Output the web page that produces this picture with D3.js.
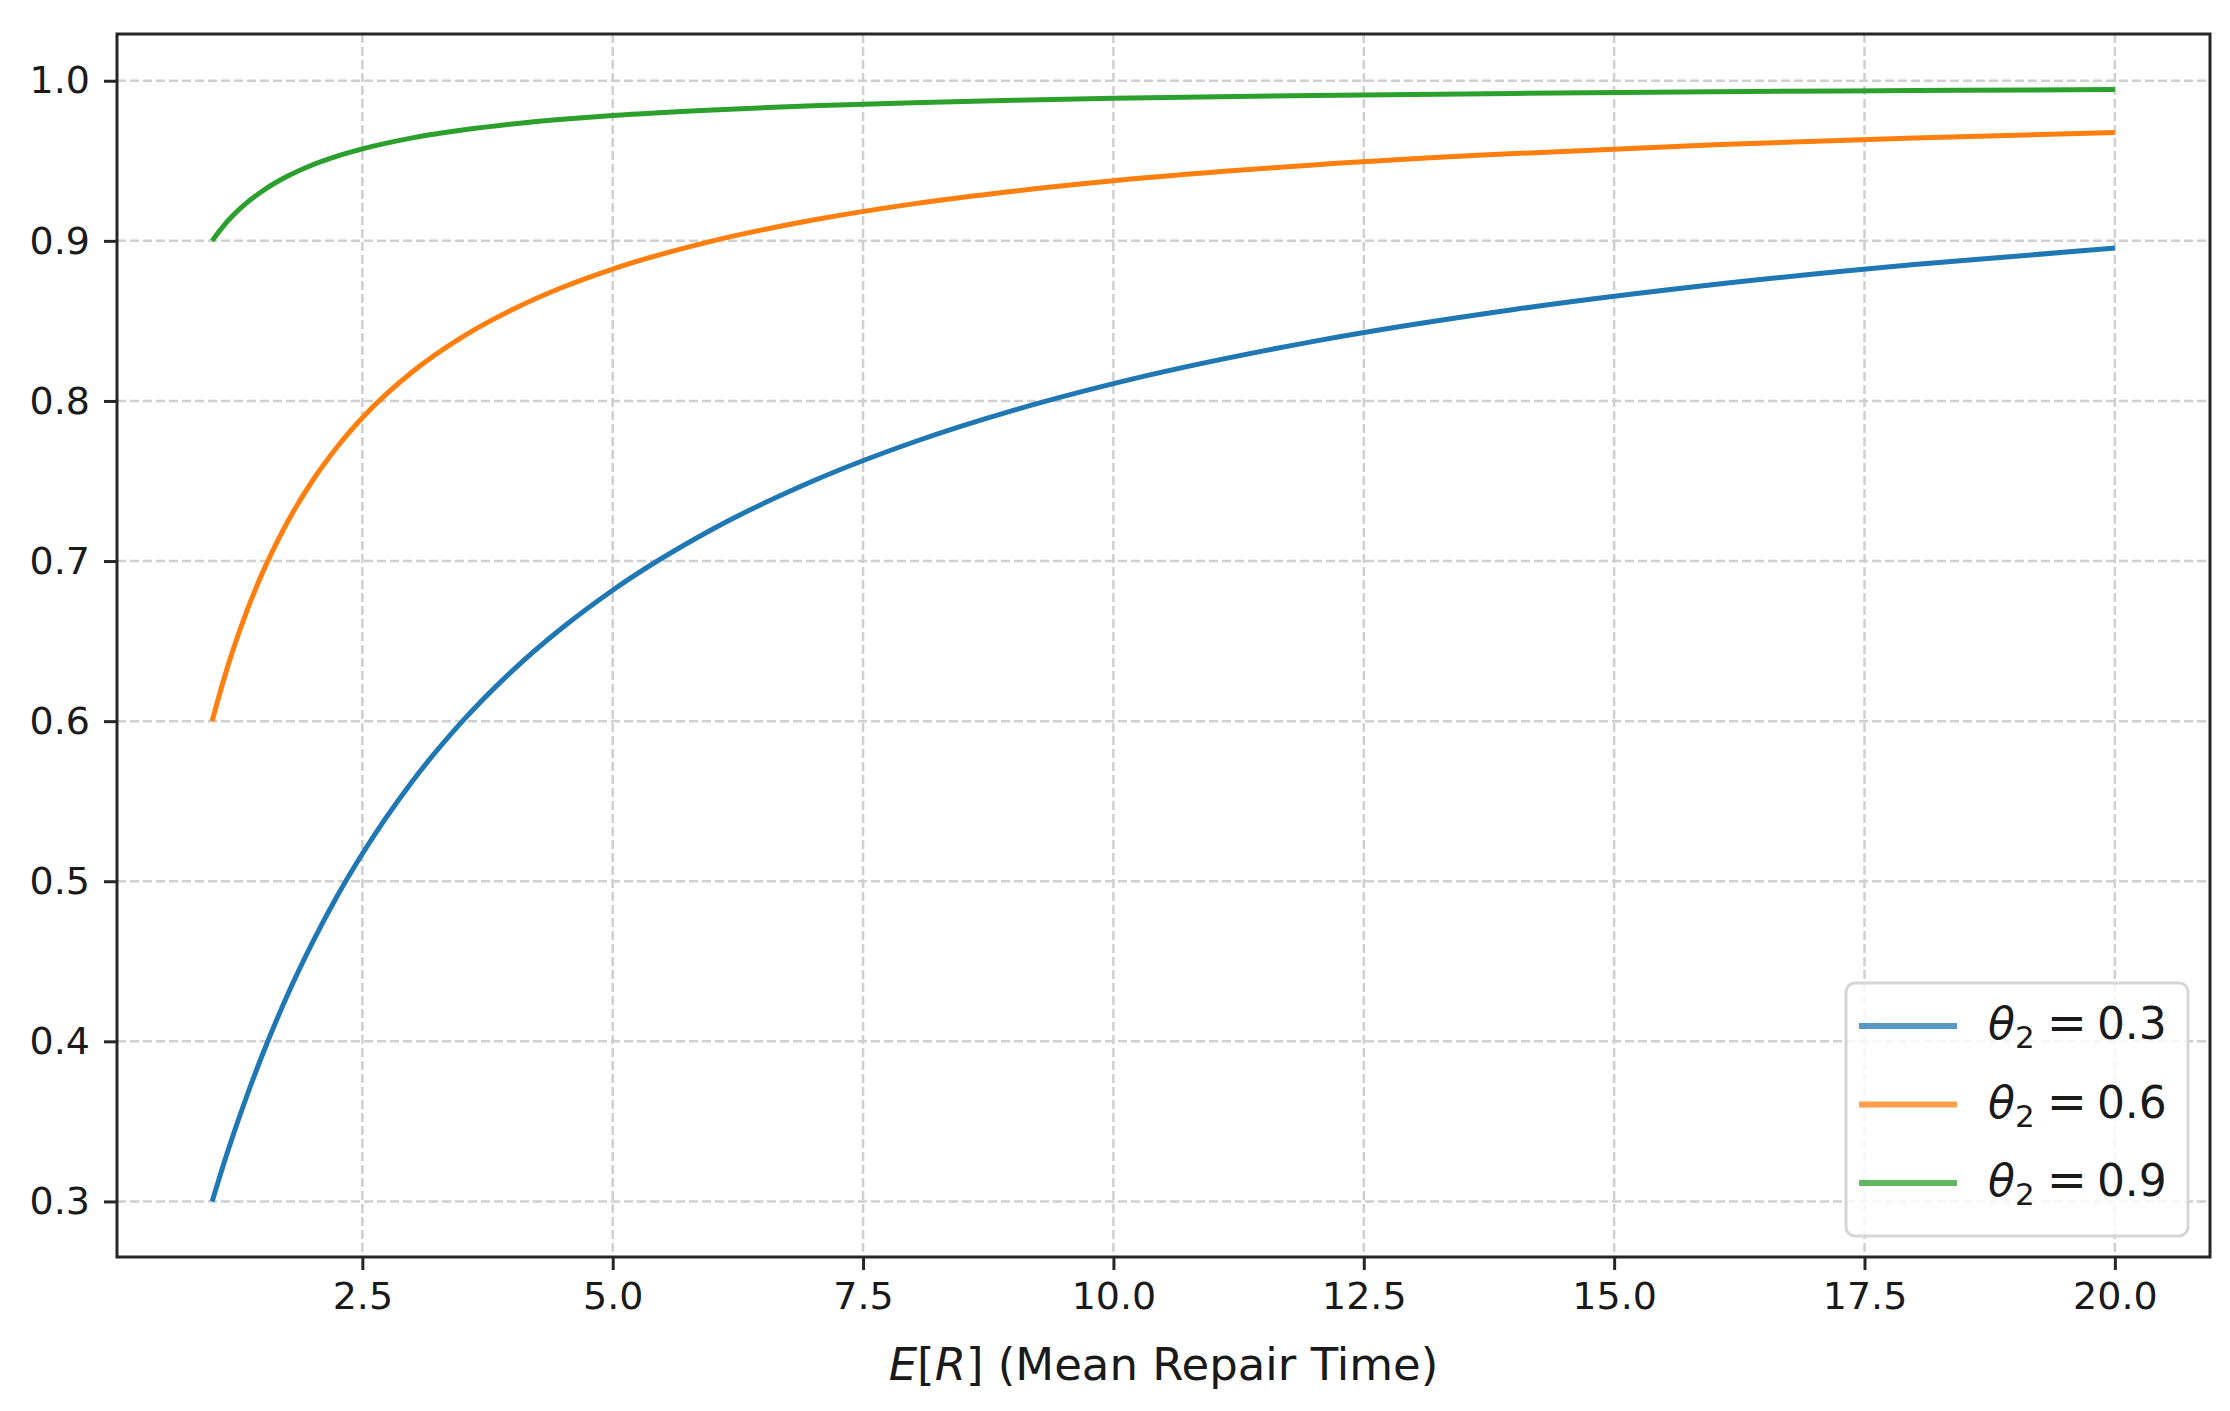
<!DOCTYPE html>
<html>
<head>
<meta charset="utf-8">
<script src="https://cdn.jsdelivr.net/npm/d3@7"></script>
<style>
  body { margin: 0; background: #fff; }
  svg text { font-family: "DejaVu Sans", sans-serif; fill: #1a1a1a; }
</style>
</head>
<body>
<svg width="2230" height="1411"></svg>
<script>
const repairTimes = [1, 1.1, 1.2, 1.35, 1.5, 1.75, 2, 2.25, 2.5, 3, 3.5, 4, 4.5, 5, 6, 7, 8, 9, 10, 12, 14, 16, 18, 20];

const theta03 = [0.3000, 0.3204, 0.3396, 0.3665, 0.3913, 0.4286, 0.4615, 0.4909, 0.5172, 0.5625, 0.6000, 0.6316, 0.6585, 0.6818, 0.7200, 0.7500, 0.7742, 0.7941, 0.8108, 0.8372, 0.8571, 0.8727, 0.8852, 0.8955];
const theta06 = [0.6000, 0.6226, 0.6429, 0.6694, 0.6923, 0.7241, 0.7500, 0.7714, 0.7895, 0.8182, 0.8400, 0.8571, 0.8710, 0.8824, 0.9000, 0.9130, 0.9231, 0.9310, 0.9375, 0.9474, 0.9545, 0.9600, 0.9643, 0.9677];
const theta09 = [0.9000, 0.9083, 0.9153, 0.9240, 0.9310, 0.9403, 0.9474, 0.9529, 0.9574, 0.9643, 0.9692, 0.9730, 0.9759, 0.9783, 0.9818, 0.9844, 0.9863, 0.9878, 0.9890, 0.9908, 0.9921, 0.9931, 0.9939, 0.9945];

const seriesLabels = ["0.3", "0.6", "0.9"];
const seriesColors = ["#1f77b4", "#ff7f0e", "#2ca02c"];

const xTicks = [2.5, 5.0, 7.5, 10.0, 12.5, 15.0, 17.5, 20.0];
const yTicks = [0.3, 0.4, 0.5, 0.6, 0.7, 0.8, 0.9, 1.0];

const svg = d3.select("svg");

const plotLeft = 117, plotRight = 2210, plotTop = 34, plotBottom = 1257;

const x = d3.scaleLinear().domain([0.05, 20.95]).range([plotLeft, plotRight]);
const y = d3.scaleLinear().domain([0.2653, 1.0292]).range([plotBottom, plotTop]);

// grid
const grid = svg.append("g")
    .attr("stroke", "#cfcfcf")
    .attr("stroke-width", 2.5)
    .attr("stroke-dasharray", "9,4");

grid.selectAll("line.v")
    .data(xTicks)
    .join("line")
    .attr("class", "v")
    .attr("x1", d => x(d)).attr("x2", d => x(d))
    .attr("y1", plotTop).attr("y2", plotBottom);

grid.selectAll("line.h")
    .data(yTicks)
    .join("line")
    .attr("class", "h")
    .attr("x1", plotLeft).attr("x2", plotRight)
    .attr("y1", d => y(d)).attr("y2", d => y(d));

// curves
const series = [theta03, theta06, theta09];

const line = d3.line()
    .x((d, i) => x(repairTimes[i]))
    .y(d => y(d))
    .curve(d3.curveMonotoneX);

svg.append("g")
    .selectAll("path")
    .data(series)
    .join("path")
    .attr("d", d => line(d))
    .attr("fill", "none")
    .attr("stroke", (d, i) => seriesColors[i])
    .attr("stroke-width", 5);

// axes
const xAxis = d3.axisBottom(x)
    .tickValues(xTicks)
    .tickFormat(d3.format(".1f"))
    .tickSizeInner(13)
    .tickSizeOuter(0)
    .tickPadding(12);

const yAxis = d3.axisLeft(y)
    .tickValues(yTicks)
    .tickFormat(d3.format(".1f"))
    .tickSizeInner(13)
    .tickSizeOuter(0)
    .tickPadding(14);

const gx = svg.append("g")
    .attr("transform", `translate(0,${plotBottom})`)
    .call(xAxis);

const gy = svg.append("g")
    .attr("transform", `translate(${plotLeft},0)`)
    .call(yAxis);

[gx, gy].forEach(g => {
    g.select(".domain").remove();
    g.selectAll(".tick line").attr("stroke", "#262626").attr("stroke-width", 3);
    g.selectAll(".tick text")
        .attr("fill", "#1a1a1a")
        .style("font-size", "38px")
        .style("font-family", "DejaVu Sans");
});

// frame
svg.append("rect")
    .attr("x", plotLeft).attr("y", plotTop)
    .attr("width", plotRight - plotLeft).attr("height", plotBottom - plotTop)
    .attr("fill", "none")
    .attr("stroke", "#262626")
    .attr("stroke-width", 3);

// x label
const xl = svg.append("text")
    .attr("x", (plotLeft + plotRight) / 2)
    .attr("y", 1380)
    .attr("text-anchor", "middle")
    .style("font-size", "45px");
xl.append("tspan").style("font-style", "italic").text("E");
xl.append("tspan").text("[");
xl.append("tspan").style("font-style", "italic").text("R");
xl.append("tspan").text("] (Mean Repair Time)");

// legend
const legend = svg.append("g");

legend.append("rect")
    .attr("x", 1846).attr("y", 983)
    .attr("width", 342).attr("height", 253)
    .attr("rx", 9)
    .attr("fill", "rgba(255,255,255,0.8)")
    .attr("stroke", "#d6d6d6")
    .attr("stroke-width", 3);

const item = legend.selectAll("g.item")
    .data(seriesLabels)
    .join("g")
    .attr("class", "item")
    .attr("transform", (d, i) => `translate(0,${1026 + i * 78.5})`);

item.append("line")
    .attr("x1", 1859).attr("x2", 1957)
    .attr("stroke", (d, i) => seriesColors[i])
    .attr("stroke-width", 6)
    .attr("stroke-opacity", 0.75);

const lt = item.append("text")
    .attr("x", 1988)
    .attr("y", 13)
    .style("font-size", "44px");
lt.append("tspan").style("font-style", "italic").text("θ");
lt.append("tspan").attr("dy", 9).style("font-size", "31px").text("2");
lt.append("tspan").attr("dy", -9).attr("dx", 12).style("font-size", "48px").text("=");
lt.append("tspan").attr("dx", 10).text(d => d);
</script>
</body>
</html>
